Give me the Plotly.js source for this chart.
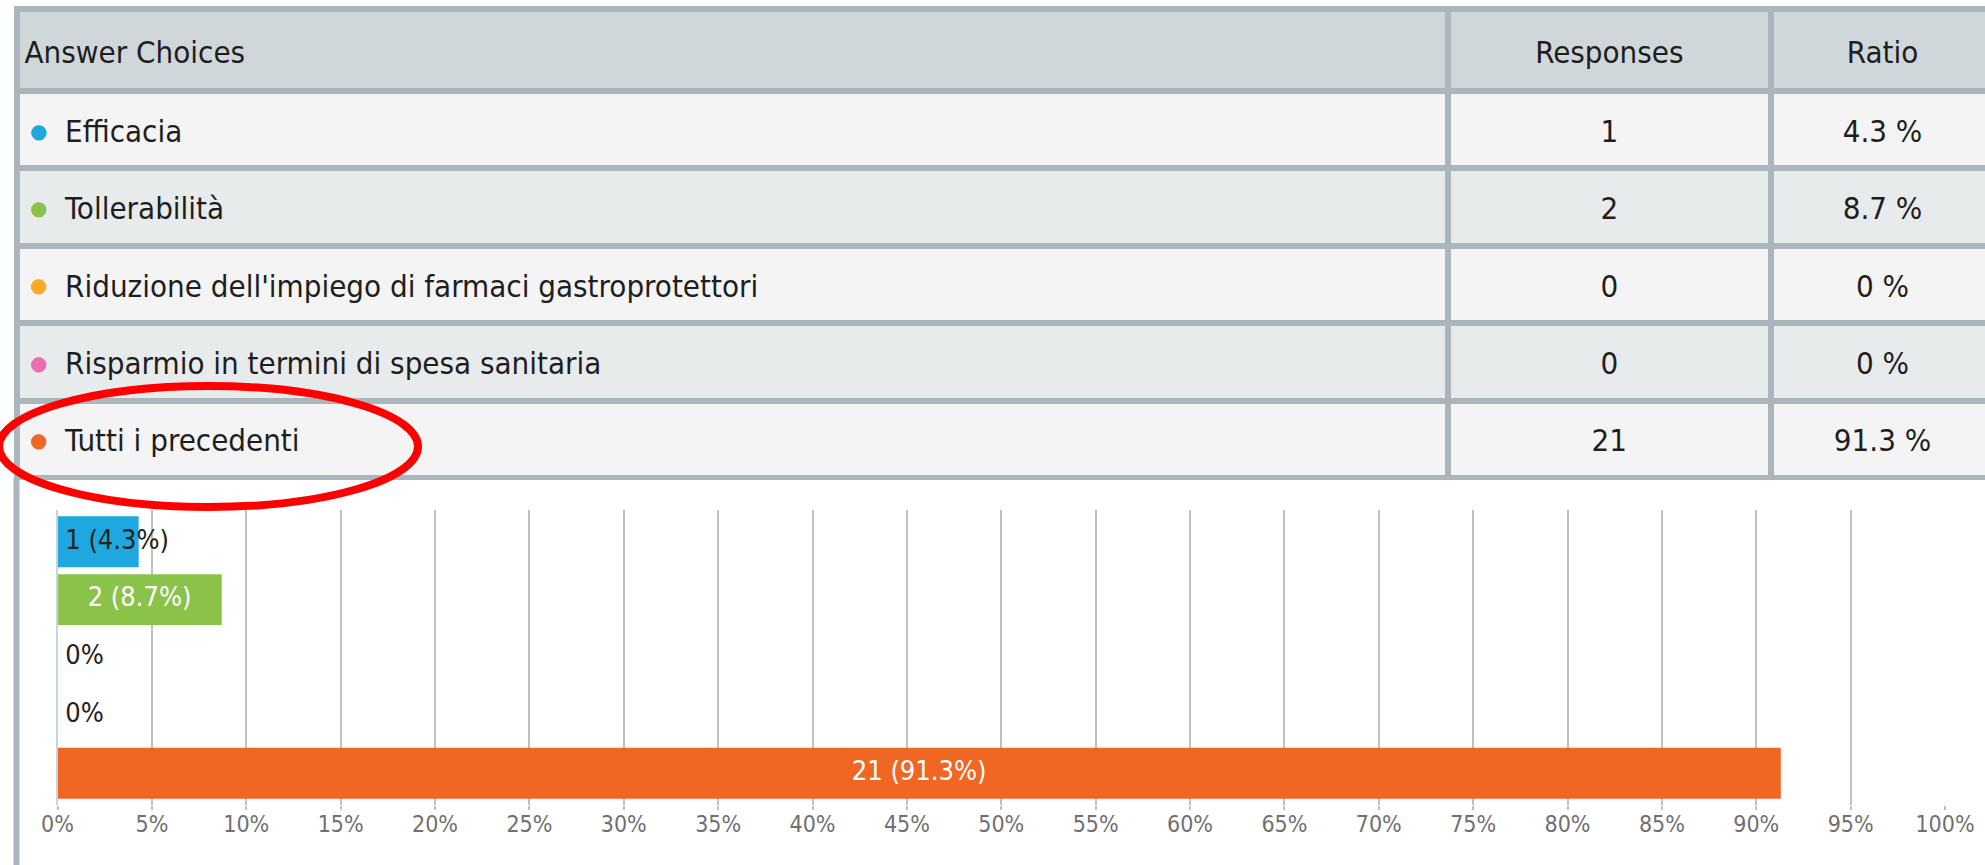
<!DOCTYPE html>
<html>
<head>
<meta charset="utf-8">
<script src="https://cdn.plot.ly/plotly-3.0.1.min.js"></script>
<style>
  html, body { margin: 0; padding: 0; overflow: hidden; background: #fff; }
  #chart { width: 2000px; height: 865px; }
</style>
</head>
<body>
<div id="chart"></div>
<script>
// survey data
const choices = [
    "Efficacia",
    "Tollerabilità",
    "Riduzione dell'impiego di farmaci gastroprotettori",
    "Risparmio in termini di spesa sanitaria",
    "Tutti i precedenti"
];
const responses = [1, 2, 0, 0, 21];
const ratios = [4.3, 8.7, 0, 0, 91.3];
const choiceColors = ["#1fa8e0", "#8bc34a", "#fbaa28", "#e96fb0", "#f06724"];
const headers = ["Answer Choices", "Responses", "Ratio"];
const xTickVals = [0, 5, 10, 15, 20, 25, 30, 35, 40, 45, 50, 55, 60, 65, 70, 75, 80, 85, 90, 95, 100];

// page is a bit wider than the window so the table runs off the right edge
const W = 2000;
const H = 865;
const px = x => x / W;
const py = y => 1 - y / H;

const border = "#aab6bb";
const condensed = "DejaVu Sans Condensed, DejaVu Sans, sans-serif";

const rowFills = choices.map((c, i) => i % 2 === 0 ? "#f4f4f4" : "#e8ebec");

// table cells align text to the top; a blank first line in the small base
// font pushes the real (bigger) line down to the middle of the row
const big = s => `<span style="font-size:31px">${s}</span>`;
const cellText = s => `\u00a0<br>${big(s)}`;
const dot = c => `<span style="font-family:DejaVu Sans;font-size:20px;baseline-shift:4px;color:${c}">●</span>`;

const firstCol = choices.map((c, i) => `\u00a0<br>\u00a0${dot(choiceColors[i])}${big("\u00a0 " + c)}`);
const ratioCol = ratios.map(r => cellText(`${r} %`));

const table = {
    type: "table",
    domain: {x: [px(16.5), px(1995)], y: [py(481), py(9)]},
    columnwidth: [1432, 322.5, 224],
    header: {
        values: headers.map(cellText),
        align: ["left", "center", "center"],
        height: 82,
        fill: {color: "#cfd7da"},
        line: {color: border, width: 6},
        font: {family: condensed, size: 21, color: "#1e1e1e"}
    },
    cells: {
        values: [firstCol, responses.map(cellText), ratioCol],
        align: ["left", "center", "center"],
        height: 77.4,
        fill: {color: [rowFills, rowFills, rowFills]},
        line: {color: border, width: 6},
        font: {family: condensed, size: 19, color: "#1e1e1e"}
    }
};

const bars = {
    type: "bar",
    orientation: "h",
    x: ratios,
    y: choices,
    marker: {color: choiceColors, line: {width: 0}},
    hoverinfo: "skip",
    showlegend: false
};

// labels: centered white when the bar is wide enough, else dark from the axis
const fits = ratios.map(r => r >= 8);
const labels = {
    type: "scatter",
    mode: "text",
    x: ratios.map((r, i) => fits[i] ? r / 2 : 0),
    y: choices,
    text: ratios.map((r, i) => {
        const t = r > 0 ? `${responses[i]} (${r}%)` : "0%";
        return fits[i] ? t : "\u00a0" + t;
    }),
    textposition: fits.map(f => f ? "middle center" : "middle right"),
    textfont: {family: condensed, size: 27, color: fits.map(f => f ? "#ffffff" : "#222222")},
    hoverinfo: "skip",
    showlegend: false,
    cliponaxis: false
};

const layout = {
    width: W,
    height: H,
    margin: {l: 0, r: 0, t: 0, b: 0},
    paper_bgcolor: "#ffffff",
    plot_bgcolor: "#ffffff",
    bargap: 0.12,
    showlegend: false,
    xaxis: {
        domain: [px(57.5), px(1945)],
        range: [0, 100],
        tickmode: "array",
        tickvals: xTickVals,
        ticktext: xTickVals.map(v => v + "%"),
        showgrid: true,
        gridcolor: "#c0c0c0",
        gridwidth: 2,
        zeroline: false,
        ticks: "outside",
        ticklen: 4,
        tickwidth: 2,
        tickcolor: "#c0c0c0",
        ticklabelstandoff: -6,
        tickfont: {family: condensed, size: 23, color: "#707070"},
        fixedrange: true
    },
    yaxis: {
        domain: [py(805), py(510)],
        type: "category",
        range: [4.55, -0.55],
        showticklabels: false,
        showgrid: false,
        zeroline: false,
        showline: true,
        linecolor: "#c8d4e0",
        linewidth: 2,
        fixedrange: true
    },
    shapes: [
        // left border of the survey box, running below the table
        {type: "line", xref: "paper", yref: "paper",
         x0: px(16.5), x1: px(16.5), y0: 0, y1: py(478),
         line: {color: border, width: 6}},
        // red hand-drawn ellipse around the last answer
        {type: "circle", xref: "paper", yref: "paper", layer: "above",
         x0: px(-1), x1: px(418), y0: py(507), y1: py(386),
         line: {color: "#ff0000", width: 8}}
    ]
};

Plotly.newPlot("chart", [table, bars, labels], layout, {displayModeBar: false, staticPlot: true});
</script>
</body>
</html>
